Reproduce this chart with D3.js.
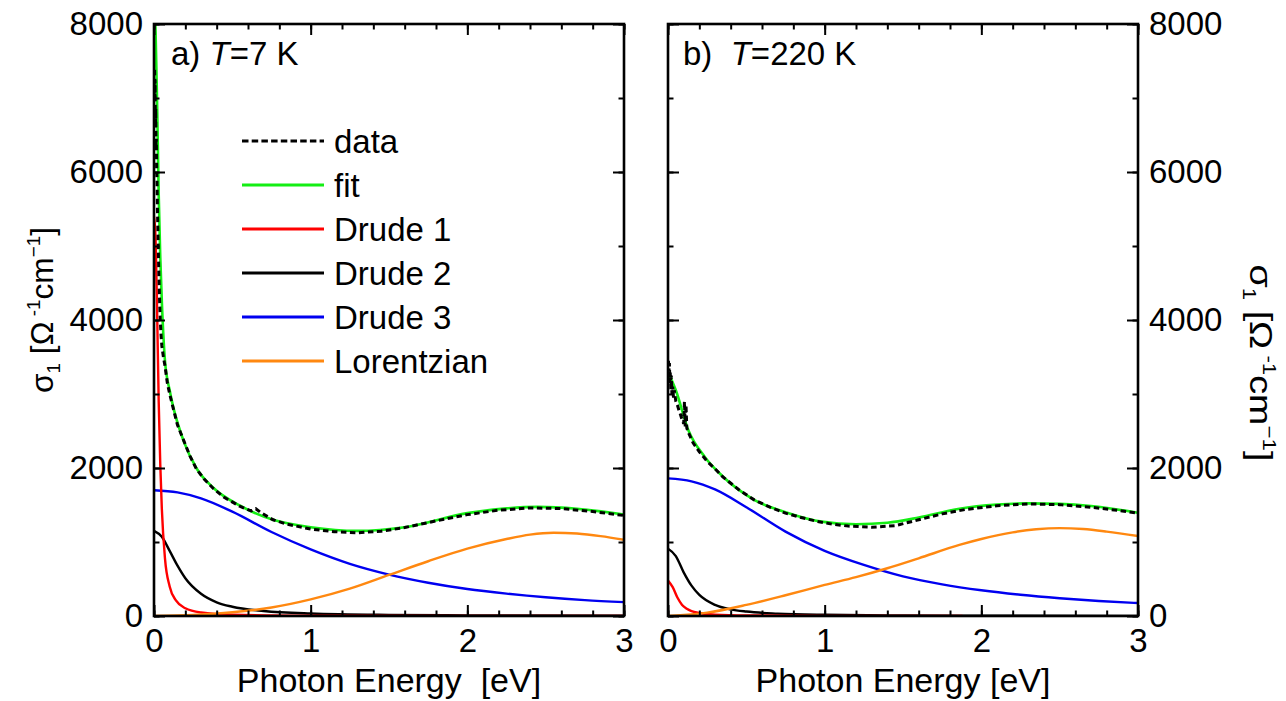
<!DOCTYPE html>
<html>
<head>
<meta charset="utf-8">
<script src="https://cdn.jsdelivr.net/npm/d3@7"></script>
<style>
body{margin:0;background:#fff}
svg text{font-family:"Liberation Sans",Arial,sans-serif;fill:#000}
</style>
</head>
<body>
<svg id="chart" width="1286" height="701"></svg>
<script>
// values: [photon energy eV, sigma1]
var data_7K = [[0.004,7380],[0.006,7000],[0.007,7250],[0.009,6600],[0.011,6850],[0.013,6300],[0.015,6450],[0.017,6000],
  [0.019,5900],[0.022,5500],[0.025,5200],[0.028,4900],[0.032,4550],[0.036,4250],[0.04,4000],[0.045,3800],[0.05,3650],
  [0.06,3500],[0.07,3380],[0.085,3150],[0.1,3000],[0.12,2830],[0.15,2580],[0.19,2370],[0.23,2160],[0.27,1990],[0.32,1850],
  [0.38,1720],[0.45,1600],[0.55,1480],[0.62,1420],[0.65,1450],[0.68,1400],[0.76,1300],[0.85,1240],[1,1175],[1.15,1140],
  [1.3,1125],[1.45,1145],[1.6,1195],[1.8,1285],[2,1370],[2.2,1430],[2.4,1460],[2.6,1452],[2.8,1412],[3,1358]];
var fit_7K = [[0,8250],[0.01,7900],[0.02,6900],[0.03,5700],[0.04,4850],[0.05,4250],[0.07,3450],[0.1,3050],[0.12,2850],
  [0.19,2360],[0.27,2000],[0.38,1730],[0.55,1490],[0.76,1300],[1,1200],[1.3,1150],[1.6,1200],[2,1390],[2.25,1455],
  [2.45,1475],[2.7,1450],[3,1370]];
var drude1_7K = [[0,5400],[0.01,5100],[0.02,4100],[0.03,2900],[0.04,2050],[0.05,1450],[0.07,780],[0.1,400],[0.14,210],
  [0.2,105],[0.3,48],[0.5,18],[1,5],[2,1],[3,0]];
var drude2_7K = [[0,1150],[0.05,1070],[0.1,880],[0.15,680],[0.2,510],[0.3,300],[0.4,185],[0.5,125],[0.7,68],[1,34],
  [1.5,15],[2,9],[3,4]];
var drude3_7K = [[0,1700],[0.15,1670],[0.3,1590],[0.5,1410],[0.75,1135],[1,900],[1.25,705],[1.5,560],[1.75,450],[2,365],
  [2.25,303],[2.5,253],[2.75,215],[3,188]];
var lorentz_7K = [[0,0],[0.25,15],[0.5,50],[0.75,115],[1,225],[1.25,370],[1.5,555],[1.75,740],[2,910],[2.25,1040],
  [2.4,1100],[2.55,1126],[2.7,1115],[2.85,1080],[3,1030]];

var data_220K = [[0.003,3450],[0.006,3300],[0.009,3420],[0.012,3150],[0.015,3300],[0.018,3050],[0.021,3250],[0.025,3000],
  [0.03,3100],[0.035,2950],[0.04,3050],[0.05,2900],[0.06,2850],[0.07,2780],[0.08,2720],[0.09,2650],[0.1,2600],[0.105,2900],
  [0.11,2560],[0.115,2850],[0.12,2540],[0.13,2480],[0.16,2340],[0.2,2220],[0.25,2090],[0.3,1990],[0.35,1880],[0.45,1710],
  [0.55,1570],[0.65,1470],[0.75,1390],[0.85,1330],[0.95,1280],[1.05,1240],[1.15,1215],[1.3,1200],[1.45,1220],[1.6,1300],
  [1.75,1380],[1.9,1440],[2.1,1490],[2.3,1515],[2.5,1505],[2.7,1470],[2.9,1420],[3,1390]];
var fit_220K = [[0,3300],[0.05,3050],[0.13,2510],[0.235,2150],[0.34,1905],[0.55,1570],[0.77,1390],[0.98,1275],[1.2,1240],
  [1.4,1260],[1.6,1330],[1.86,1450],[2.1,1505],[2.3,1522],[2.5,1515],[2.7,1486],[3,1396]];
var drude1_220K = [[0,480],[0.03,390],[0.06,250],[0.09,150],[0.12,98],[0.15,66],[0.2,40],[0.3,18],[0.5,7],[1,2],[1.88,0]];
var drude2_220K = [[0,910],[0.05,810],[0.1,590],[0.15,410],[0.2,285],[0.3,150],[0.4,90],[0.5,60],[0.7,32],[1,16],
  [1.5,7],[2,4],[3,2]];
var drude3_220K = [[0,1860],[0.15,1820],[0.3,1710],[0.5,1470],[0.75,1140],[1,880],[1.25,690],[1.5,535],[1.75,428],[2,348],
  [2.25,287],[2.5,240],[2.75,203],[3,175]];
var lorentz_220K = [[0,0],[0.25,45],[0.5,150],[0.75,280],[1,420],[1.2,525],[1.4,645],[1.6,780],[1.86,960],[2,1040],
  [2.2,1130],[2.35,1172],[2.5,1188],[2.65,1175],[2.8,1140],[3,1080]];

var xMajor = [0, 1, 2, 3];
var xMinor = d3.range(0, 3.001, 0.2);
var yMajor = [0, 2000, 4000, 6000, 8000];
var yMinor = d3.range(0, 8001, 1000);
var legendNames = ["data", "fit", "Drude 1", "Drude 2", "Drude 3", "Lorentzian"];
var colors = {data:"#000", fit:"#14ee14", d1:"#ff0000", d2:"#000", d3:"#0000f0", lor:"#ff8810"};

var svg = d3.select('#chart');
var y = d3.scaleLinear().domain([0, 8000]).range([616, 24]);

var panels = [
  {left:154, right:624, yAxis:'left', title:'Photon Energy  [eV]', tag:'a) ', temp:'=7 K', tagX:171, legend:true,
   data:data_7K, fit:fit_7K, d1:drude1_7K, d2:drude2_7K, d3:drude3_7K, lor:lorentz_7K},
  {left:668, right:1138, yAxis:'right', title:'Photon Energy [eV]', tag:'b)  ', temp:'=220 K', tagX:683, legend:false,
   data:data_220K, fit:fit_220K, d1:drude1_220K, d2:drude2_220K, d3:drude3_220K, lor:lorentz_220K}
];

function styleAxis(g){
  g.select('.domain').remove();
  g.selectAll('line').attr('stroke', '#000').attr('stroke-width', 2);
  g.attr('font-family', null).attr('font-size', null);
  g.selectAll('text').attr('font-size', 33);
}

panels.forEach(function(p, i){
  var x = d3.scaleLinear().domain([0, 3]).range([p.left, p.right]);
  var line = d3.line().x(function(d){return x(d[0]);}).y(function(d){return y(d[1]);});
  var smooth = d3.line().curve(d3.curveMonotoneX).x(function(d){return x(d[0]);}).y(function(d){return y(d[1]);});

  svg.append('clipPath').attr('id', 'clip' + i).append('rect')
    .attr('x', p.left).attr('y', 24).attr('width', p.right - p.left).attr('height', 592);
  var curves = svg.append('g').attr('clip-path', 'url(#clip' + i + ')').attr('fill', 'none');

  curves.append('path').attr('d', smooth(p.d2)).attr('stroke', colors.d2).attr('stroke-width', 2.4);
  curves.append('path').attr('d', smooth(p.d3)).attr('stroke', colors.d3).attr('stroke-width', 2.4);
  curves.append('path').attr('d', smooth(p.d1)).attr('stroke', colors.d1).attr('stroke-width', 2.4);
  curves.append('path').attr('d', smooth(p.lor)).attr('stroke', colors.lor).attr('stroke-width', 2.4);
  curves.append('path').attr('d', smooth(p.fit)).attr('stroke', colors.fit).attr('stroke-width', 2.6);
  curves.append('path').attr('d', line(p.data)).attr('stroke', colors.data).attr('stroke-width', 3)
    .attr('stroke-dasharray', '5.5,3.5');

  // inward ticks on all four sides
  var ax = svg.append('g');
  [[d3.axisBottom, 616], [d3.axisTop, 24]].forEach(function(a){
    ax.append('g').attr('transform', 'translate(0,' + a[1] + ')')
      .call(a[0](x).tickValues(xMinor).tickSize(-5.5).tickFormat('')).call(styleAxis);
    ax.append('g').attr('transform', 'translate(0,' + a[1] + ')')
      .call(a[0](x).tickValues(xMajor).tickSize(-11).tickFormat('')).call(styleAxis);
  });
  [[d3.axisLeft, p.left], [d3.axisRight, p.right]].forEach(function(a){
    ax.append('g').attr('transform', 'translate(' + a[1] + ',0)')
      .call(a[0](y).tickValues(yMinor).tickSize(-5.5).tickFormat('')).call(styleAxis);
    ax.append('g').attr('transform', 'translate(' + a[1] + ',0)')
      .call(a[0](y).tickValues(yMajor).tickSize(-11).tickFormat('')).call(styleAxis);
  });

  // tick labels
  ax.append('g').attr('transform', 'translate(0,616)')
    .call(d3.axisBottom(x).tickValues(xMajor).tickSize(0).tickPadding(13).tickFormat(d3.format('d'))).call(styleAxis);
  if (p.yAxis == 'left') {
    ax.append('g').attr('transform', 'translate(' + p.left + ',0)')
      .call(d3.axisLeft(y).tickValues(yMajor).tickSize(0).tickPadding(11).tickFormat(d3.format('d'))).call(styleAxis);
  } else {
    ax.append('g').attr('transform', 'translate(' + p.right + ',0)')
      .call(d3.axisRight(y).tickValues(yMajor).tickSize(0).tickPadding(11).tickFormat(d3.format('d'))).call(styleAxis);
  }

  svg.append('rect').attr('x', p.left).attr('y', 24).attr('width', p.right - p.left).attr('height', 592)
    .attr('fill', 'none').attr('stroke', '#000').attr('stroke-width', 2.6);

  svg.append('text').attr('x', (p.left + p.right) / 2).attr('y', 692).attr('text-anchor', 'middle')
    .attr('font-size', 34).style('white-space', 'pre').text(p.title);

  var tag = svg.append('text').attr('x', p.tagX).attr('y', 65).attr('font-size', 33).style('white-space', 'pre');
  tag.append('tspan').text(p.tag);
  tag.append('tspan').attr('font-style', 'italic').text('T');
  tag.append('tspan').text(p.temp);

  if (p.legend) {
    var keys = ['data', 'fit', 'd1', 'd2', 'd3', 'lor'];
    var lg = svg.append('g');
    keys.forEach(function(k, j){
      var yy = 141 + j * 44;
      var l = lg.append('line').attr('x1', 242).attr('x2', 324).attr('y1', yy).attr('y2', yy)
        .attr('stroke', colors[k]).attr('stroke-width', 3);
      if (k == 'data') l.attr('stroke-dasharray', '6.5,3.2');
      lg.append('text').attr('x', 334).attr('y', yy).attr('dy', '0.36em').attr('font-size', 33).text(legendNames[j]);
    });
  }
});

// vertical axis titles: sigma_1 [Omega^-1 cm^-1]
function yTitle(cx, cy, len, angle){
  var t = svg.append('text').attr('font-size', 32).style('white-space', 'pre');
  t.append('tspan').text('σ');
  t.append('tspan').attr('font-size', 19).attr('dy', 7).text('1');
  t.append('tspan').attr('dy', -7).text(' [Ω');
  t.append('tspan').attr('font-size', 19).attr('dy', -13).text(' -1');
  t.append('tspan').attr('dy', 13).text('cm');
  t.append('tspan').attr('font-size', 19).attr('dy', -13).text('−1');
  t.append('tspan').attr('dy', 13).text(']');
  var bb = t.node().getBBox();
  t.attr('transform', 'translate(' + cx + ',' + cy + ') rotate(' + angle + ') scale(' + (len / bb.width) + ',1) translate(' +
    (-(bb.x + bb.width / 2)) + ',0)');
}
yTitle(53, 310, 166, -90);
yTitle(1250, 363, 197, 90);
</script>
</body>
</html>
